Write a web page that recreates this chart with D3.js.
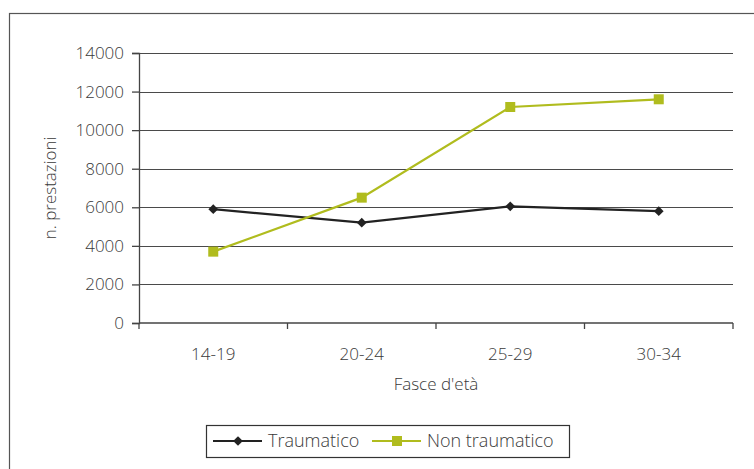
<!DOCTYPE html>
<html>
<head>
<meta charset="utf-8">
<script src="https://cdn.jsdelivr.net/npm/d3@7"></script>
<style>
  body { margin: 0; background: #fff; }
  text { font-family: "Open Sans", sans-serif; fill: #3a3a3a; }
</style>
</head>
<body>
<script>
// data
var categories = ["14-19", "20-24", "25-29", "30-34"];
var traumatico = [5900, 5200, 6050, 5800];
var nonTraumatico = [3700, 6500, 11200, 11600];
var yTicks = [0, 2000, 4000, 6000, 8000, 10000, 12000, 14000];
var seriesNames = ["Traumatico", "Non traumatico"];

var W = 754, H = 469;
var margin = { top: 53, right: 21, bottom: 146, left: 139 },
    width = W - margin.left - margin.right,
    height = H - margin.top - margin.bottom;

var green = "#b0bc1e", dark = "#222";

var svg = d3.select("body").append("svg")
    .attr("width", W)
    .attr("height", H);

// outer frame
svg.append("rect")
    .attr("x", 9.5).attr("y", 13.5)
    .attr("width", 800).attr("height", 500)
    .attr("fill", "none")
    .attr("stroke", "#555")
    .attr("stroke-width", 1.2);

var g = svg.append("g")
    .attr("transform", "translate(" + margin.left + "," + margin.top + ")");

var x = d3.scaleBand().domain(categories).range([0, width]);
var y = d3.scaleLinear().domain([0, 14000]).range([height, 0]);

// gridlines
g.selectAll(".grid")
    .data(yTicks.slice(1))
    .enter().append("line")
    .attr("x1", 0).attr("x2", width)
    .attr("y1", function(d) { return Math.round(y(d)) + 0.5; })
    .attr("y2", function(d) { return Math.round(y(d)) + 0.5; })
    .attr("stroke", "#4a4a4a")
    .attr("stroke-width", 1);

// y axis
var yAxis = g.append("g")
    .call(d3.axisLeft(y).tickValues(yTicks).tickSize(7).tickPadding(8).tickFormat(d3.format("d")));
yAxis.selectAll("text").attr("font-size", "17px").style("font-weight", 300);

// x axis, ticks at band edges
var xAxis = g.append("g")
    .attr("transform", "translate(0," + height + ")");
xAxis.append("line")
    .attr("x1", 0).attr("x2", width)
    .attr("stroke", "#444").attr("stroke-width", 1.3);
var edges = categories.map(function(c) { return x(c); }).concat([width]);
xAxis.selectAll(".tk")
    .data(edges)
    .enter().append("line")
    .attr("x1", function(d) { return d; }).attr("x2", function(d) { return d; })
    .attr("y1", 0).attr("y2", 6)
    .attr("stroke", "#444").attr("stroke-width", 1.3);
xAxis.selectAll(".lbl")
    .data(categories)
    .enter().append("text")
    .attr("x", function(d) { return x(d) + x.bandwidth() / 2; })
    .attr("y", 37)
    .attr("text-anchor", "middle")
    .attr("font-size", "17px")
    .style("font-weight", 300)
    .text(function(d) { return d; });

yAxis.select(".domain").attr("stroke", "#444").attr("stroke-width", 1.3);
yAxis.selectAll(".tick line").attr("stroke", "#444").attr("stroke-width", 1.3);

// axis titles
g.append("text")
    .attr("x", width / 2)
    .attr("y", height + 67)
    .attr("text-anchor", "middle")
    .attr("font-size", "17px")
    .style("font-weight", 300)
    .text("Fasce d'età");

svg.append("text")
    .attr("transform", "translate(56," + (margin.top + height / 2) + ") rotate(-90)")
    .attr("text-anchor", "middle")
    .attr("font-size", "17px")
    .style("font-weight", 300)
    .text("n. prestazioni");

// lines
var line = d3.line()
    .x(function(d, i) { return x(categories[i]) + x.bandwidth() / 2; })
    .y(function(d) { return y(d); });

g.append("path").datum(traumatico)
    .attr("d", line).attr("fill", "none")
    .attr("stroke", dark).attr("stroke-width", 2.2);
g.append("path").datum(nonTraumatico)
    .attr("d", line).attr("fill", "none")
    .attr("stroke", green).attr("stroke-width", 2.2);

var diamond = d3.symbol().type(d3.symbolDiamond2).size(60);

g.selectAll(".dm")
    .data(traumatico)
    .enter().append("path")
    .attr("d", diamond)
    .attr("transform", function(d, i) {
        return "translate(" + (x(categories[i]) + x.bandwidth() / 2) + "," + y(d) + ")";
    })
    .attr("fill", dark);

g.selectAll(".sq")
    .data(nonTraumatico)
    .enter().append("rect")
    .attr("x", function(d, i) { return x(categories[i]) + x.bandwidth() / 2 - 5; })
    .attr("y", function(d) { return y(d) - 5; })
    .attr("width", 10).attr("height", 10)
    .attr("fill", green);

// legend
var lg = svg.append("g").attr("transform", "translate(206,425)");
lg.append("rect")
    .attr("x", 0.5).attr("y", 0.5)
    .attr("width", 363).attr("height", 32)
    .attr("fill", "#fff")
    .attr("stroke", "#333").attr("stroke-width", 1.2);

var legX = [7, 166];
seriesNames.forEach(function(name, i) {
    var lx = legX[i], col = i === 0 ? dark : green;
    lg.append("line")
        .attr("x1", lx).attr("x2", lx + 49)
        .attr("y1", 16).attr("y2", 16)
        .attr("stroke", col).attr("stroke-width", 2.2);
    if (i === 0) {
        lg.append("path").attr("d", diamond)
            .attr("transform", "translate(" + (lx + 25) + ",16)")
            .attr("fill", col);
    } else {
        lg.append("rect")
            .attr("x", lx + 20).attr("y", 11)
            .attr("width", 10).attr("height", 10)
            .attr("fill", col);
    }
    lg.append("text")
        .attr("x", lx + 55)
        .attr("y", 22)
        .attr("font-size", "18px")
        .style("font-weight", 300)
        .text(name);
});
</script>
</body>
</html>
